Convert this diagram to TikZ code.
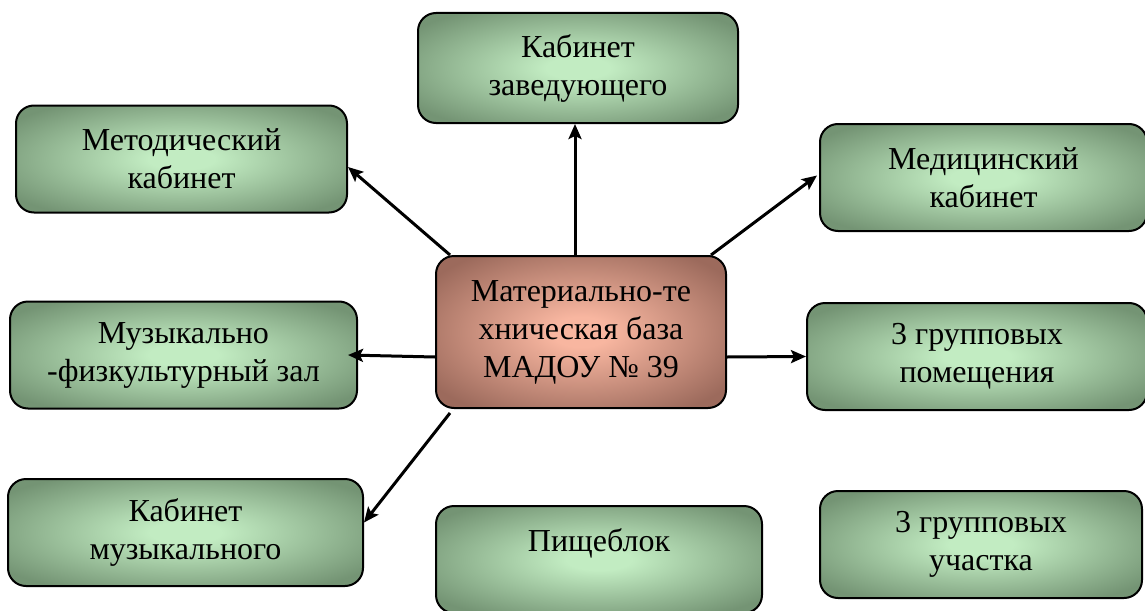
\documentclass[tikz,border=0pt]{standalone}
\usepackage{fontspec}
\setmainfont{Liberation Serif}
\usepackage{tikz}
\usetikzlibrary{arrows.meta}
\definecolor{greenout}{RGB}{116,148,116}
\definecolor{greenin}{RGB}{194,236,194}
\definecolor{brownout}{RGB}{156,106,92}
\definecolor{brownin}{RGB}{248,182,160}
\pgfdeclareradialshading{glowgreen}{\pgfpoint{0bp}{0bp}}{color(0bp)=(greenin); color(5bp)=(greenin); color(31bp)=(greenout); color(50bp)=(greenout)}
\pgfdeclareradialshading{glowbrown}{\pgfpoint{0bp}{0bp}}{color(0bp)=(brownin); color(5bp)=(brownin); color(31bp)=(brownout); color(50bp)=(brownout)}

\begin{document}
\begin{tikzpicture}[x=1pt,y=-1pt,->,>={Stealth[length=15pt,width=13pt,inset=3pt]},line width=3pt,box/.style={draw=black, line width=2pt, rounded corners=18pt, shading=glowgreen, align=center, minimum height=107pt, inner sep=0pt, font=\fontsize{32}{38}\selectfont},hub/.style={box, shading=glowbrown, minimum width=290pt, minimum height=152pt}]
\useasboundingbox (0,0) rectangle (1145,610);
\node[hub] (hub) at (581,332) {Материально-те\\хническая база\\МАДОУ № 39};
\node[box, minimum width=320pt, minimum height=110pt] (zav) at (578,68) {Кабинет\\заведующего};
\node[box, minimum width=331pt] (metod) at (181.5,159) {Методический\\кабинет};
\node[box, minimum width=327pt] (med) at (983.5,177.5) {Медицинский\\кабинет};
\node[box, minimum width=347pt] (muz) at (183.5,355) {Музыкально\\-физкультурный зал};
\node[box, minimum width=340pt] (grp) at (977,356.5) {3 групповых\\помещения};
\node[box, minimum width=355pt] (kmuz) at (185.5,532.5) {Кабинет\\музыкального};
\node[box, minimum width=326pt] (pish) at (599,559.5) {Пищеблок\\\mbox{}};
\node[box, minimum width=322pt] (uch) at (981,544.5) {3 групповых\\участка};
\path ([xshift=-6pt]hub.north) edge ([xshift=-3pt]zav.south);
\path ([xshift=15pt]hub.north west) edge ([yshift=-8pt]metod.east);
\path ([xshift=-16pt]hub.north east) edge ([xshift=-2pt,yshift=2pt]med.west);
\path ([yshift=-25pt]hub.west) edge ([xshift=-10pt]muz.east);
\path ([yshift=-25pt]hub.east) edge (grp.west);
\path ([xshift=15pt,yshift=-4pt]hub.south west) edge ([yshift=10pt]kmuz.east);
\end{tikzpicture}
\end{document}
